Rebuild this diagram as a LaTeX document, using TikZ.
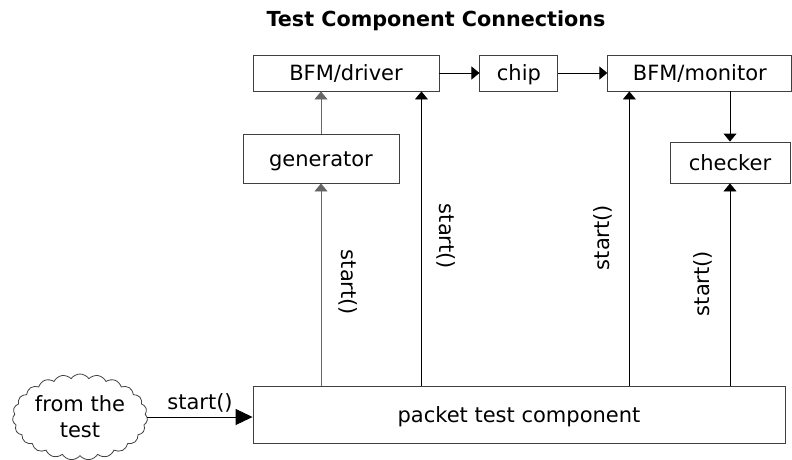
\documentclass[tikz,border=0pt]{standalone}
\usepackage{fontspec}
\setmainfont{DejaVu Sans}
\usetikzlibrary{positioning,shapes.symbols,arrows.meta}

\begin{document}
\begin{tikzpicture}[x=1pt, y=1pt, >={Triangle[length=8pt,width=13pt]},
    box/.style={rectangle, draw=black!75, line width=0.9pt, inner sep=0pt, minimum height=36pt,
                text height=15.3pt, text depth=0pt, font=\fontsize{21}{25}\selectfont},
    lbl/.style={font=\fontsize{21}{25}\selectfont, inner sep=0pt},
    link/.style={->, line width=0.9pt},
    faint/.style={draw=black!60}]
    \useasboundingbox (0,0) rectangle (792,-460);
    \clip (0,0) rectangle (792,-460);

    \node[font=\fontsize{20.7}{24}\selectfont\bfseries, anchor=base west] (title) at (263,-27) {Test Component Connections};
    \node[box, minimum width=186pt] (driver) at (346,-73) {BFM/driver};
    \node[box, minimum width=78pt, right=40pt of driver] (chip) {chip};
    \node[box, minimum width=184pt, right=49pt of chip] (monitor) {BFM/monitor};
    \node[box, minimum width=156pt, minimum height=49pt] (generator) at (321,-158.5) {generator};
    \node[box, minimum width=120pt, minimum height=41pt] (checker) at (730,-162.5) {checker};
    \node[box, minimum width=532pt, minimum height=57pt] (packet) at (519,-414.5) {packet test component};
    \node[cloud, draw=black!75, line width=0.8pt, cloud puffs=23, cloud puff arc=110, cloud ignores aspect,
          minimum width=135pt, minimum height=86pt, align=center, inner sep=0pt,
          font=\fontsize{21}{26}\selectfont] (test) at (80,-417) {from the\\test};

    \coordinate (drvin) at ([xshift=-18pt]driver.south east);
    \coordinate (monin) at ([xshift=22pt]monitor.south west);

    \draw[link, >={Triangle[length=17pt,width=16pt]}] (test.east) -- node[lbl, above=4pt] {start()} (test.east -| packet.west);
    \draw[link] (driver) -- (chip);
    \draw[link] (chip) -- (monitor);
    \draw[link, faint] (generator.north) -- (generator.north |- driver.south);
    \draw[link] (checker.north |- monitor.south) -- (checker.north);
    \draw[link, faint] (generator.south |- packet.north) -- node[lbl, xshift=27pt, yshift=2pt, rotate=-90] {start()} (generator.south);
    \draw[link] (drvin |- packet.north) -- node[lbl, xshift=25pt, yshift=2pt, rotate=-90] {start()} (drvin);
    \draw[link] (monin |- packet.north) -- node[lbl, xshift=-26pt, yshift=1pt, rotate=90] {start()} (monin);
    \draw[link] (checker.south |- packet.north) -- node[lbl, xshift=-27pt, yshift=1pt, rotate=90] {start()} (checker.south);
\end{tikzpicture}
\end{document}
